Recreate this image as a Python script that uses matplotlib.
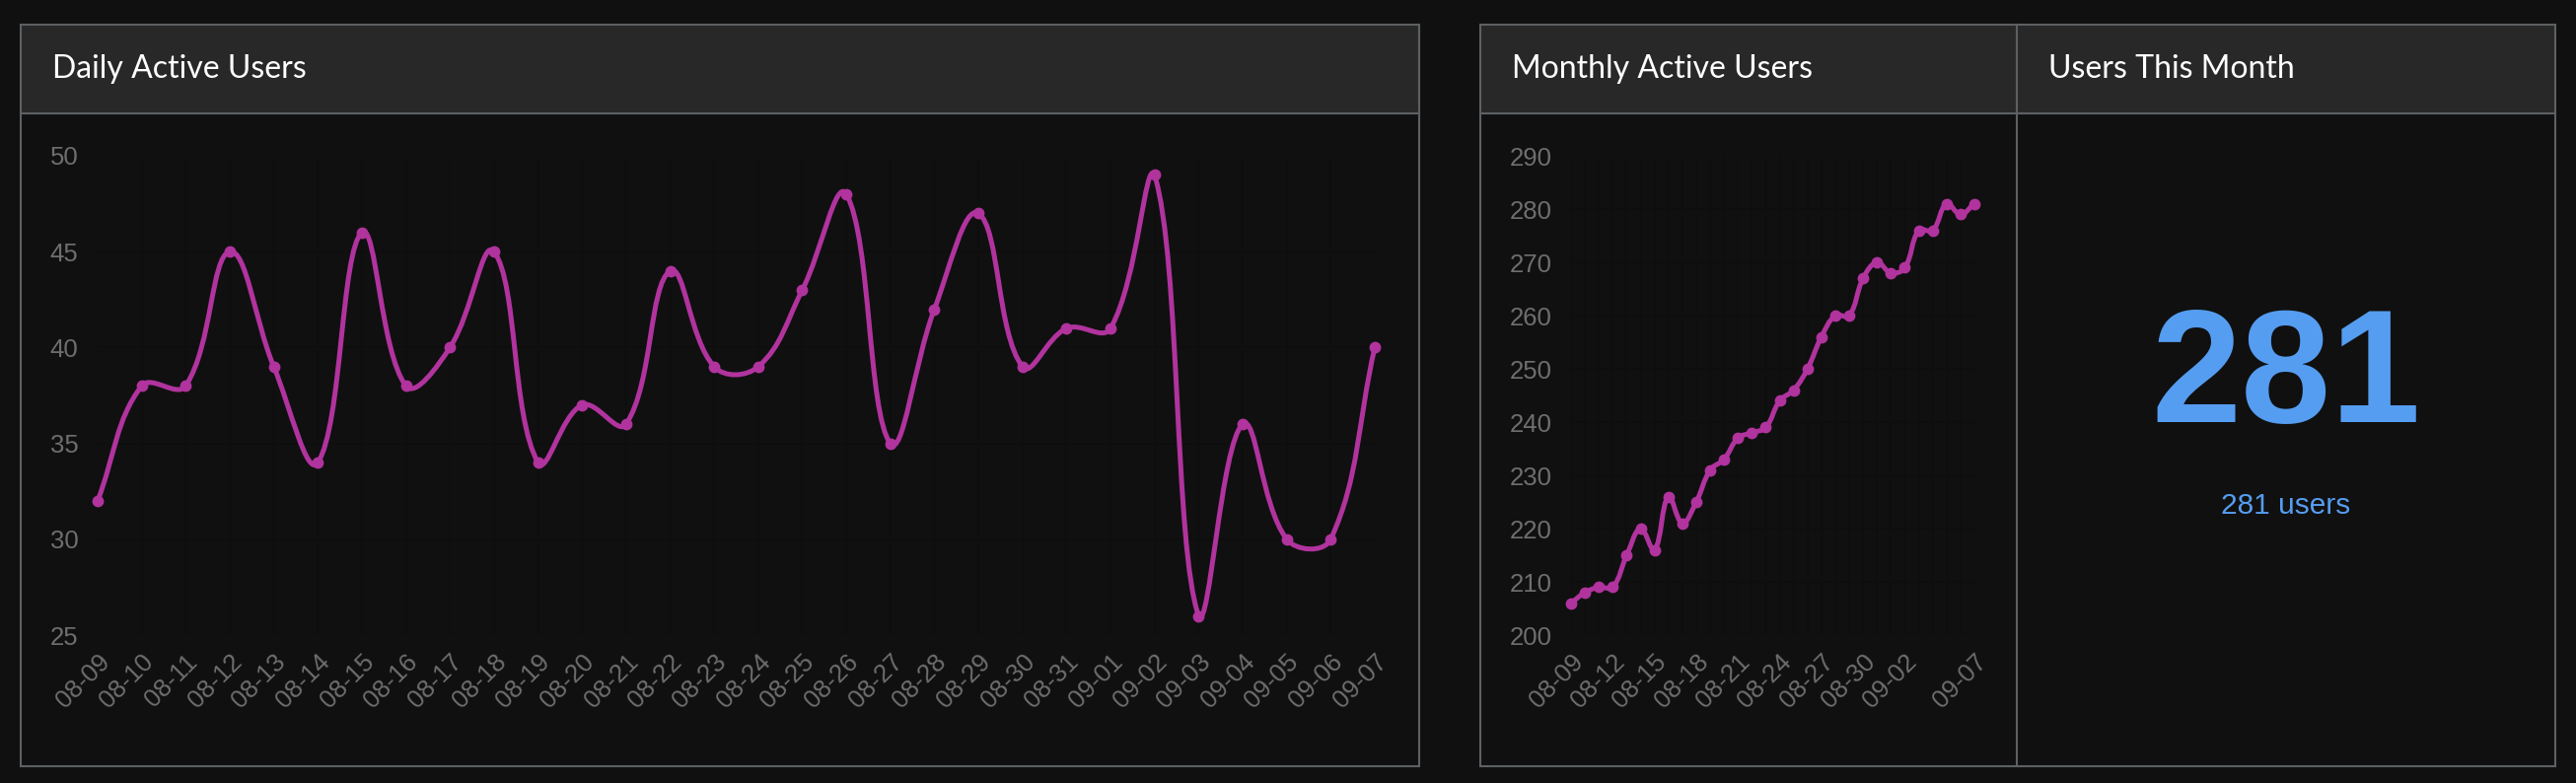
import numpy as np
import matplotlib
matplotlib.use("Agg")
import matplotlib.pyplot as plt
from matplotlib.patches import Rectangle, PathPatch
from matplotlib.path import Path

# --- data -------------------------------------------------------------
days = ["08-09", "08-10", "08-11", "08-12", "08-13", "08-14", "08-15", "08-16",
        "08-17", "08-18", "08-19", "08-20", "08-21", "08-22", "08-23", "08-24",
        "08-25", "08-26", "08-27", "08-28", "08-29", "08-30", "08-31", "09-01",
        "09-02", "09-03", "09-04", "09-05", "09-06", "09-07"]
daily_users = [32, 38, 38, 45, 39, 34, 46, 38, 40, 45, 34, 37, 36, 44, 39, 39,
               43, 48, 35, 42, 47, 39, 41, 41, 49, 26, 36, 30, 30, 40]
monthly_users = [206, 208, 209, 209, 215, 220, 216, 226, 221, 225, 231, 233, 237,
                 238, 239, 244, 246, 250, 256, 260, 260, 267, 270, 268, 269, 276,
                 276, 281, 279, 281]
monthly_ticks = ["08-09", "08-12", "08-15", "08-18", "08-21", "08-24", "08-27",
                 "08-30", "09-02", "09-07"]
users_this_month = 281

# --- style ------------------------------------------------------------
W, H = 2612, 794
BG = "#101010"
HEADER = "#282828"
BORDER = "#5d6063"
LINE = "#b1339e"
TICK = "#6e6e6e"
GRID = "#0e0e0e"
BLUE = "#559df0"

fig = plt.figure(figsize=(W / 100, H / 100), dpi=100, facecolor=BG)


def frac(x0, y0, x1, y1):
    # pixel box (top-left origin) -> figure fraction rect
    return [x0 / W, 1 - y1 / H, (x1 - x0) / W, (y1 - y0) / H]


def panel(x0, x1, dividers=()):
    y0, yh, y1 = 25, 115, 777
    l, b, w, h = frac(x0, y0, x1, yh)
    fig.patches.append(Rectangle((l, b), w, h, transform=fig.transFigure,
                                 facecolor=HEADER, edgecolor="none"))
    l, b, w, h = frac(x0, y0, x1, y1)
    fig.patches.append(Rectangle((l, b), w, h, transform=fig.transFigure,
                                 facecolor="none", edgecolor=BORDER, lw=1.5))
    fig.add_artist(plt.Line2D([x0 / W, x1 / W], [1 - yh / H] * 2,
                              color=BORDER, lw=1.5))
    for xd in dividers:
        fig.add_artist(plt.Line2D([xd / W] * 2, [1 - y0 / H, 1 - y1 / H],
                                  color=BORDER, lw=1.5))


def title(x, text):
    fig.text(x / W, 1 - 70 / H, text, color="white", fontsize=23,
             family="Lato", va="center", ha="left")


def smooth_line(ax, xs, ys, tension=0.4):
    # Chart.js style bezier through the points, computed in pixel space
    pts = ax.transData.transform(np.column_stack([xs, ys]))
    bb = ax.bbox
    n = len(pts)
    inner, outer = [], []
    for i in range(n):
        p = pts[i]
        prev = pts[i - 1] if i > 0 else p
        nxt = pts[i + 1] if i < n - 1 else p
        d01 = np.hypot(*(p - prev))
        d12 = np.hypot(*(nxt - p))
        tot = d01 + d12
        fa = tension * d01 / tot if tot else 0
        fb = tension * d12 / tot if tot else 0
        ci = p - fa * (nxt - prev)
        co = p + fb * (nxt - prev)
        for c in (ci, co):
            c[1] = min(max(c[1], bb.y0), bb.y1)
        inner.append(ci)
        outer.append(co)
    verts = [pts[0]]
    codes = [Path.MOVETO]
    for i in range(1, n):
        verts += [outer[i - 1], inner[i], pts[i]]
        codes += [Path.CURVE4] * 3
    verts = ax.transData.inverted().transform(np.array(verts))
    ax.add_patch(PathPatch(Path(verts, codes), fill=False, edgecolor=LINE,
                           lw=3.6, clip_on=False, capstyle="round",
                           joinstyle="round", zorder=3))
    ax.plot(xs, ys, "o", color=LINE, markersize=7.5, clip_on=False, zorder=4)


def style_axes(ax, ymin, ymax, step, ticks, labels):
    ax.set_facecolor(BG)
    ax.set_ylim(ymin, ymax)
    ax.set_yticks(np.arange(ymin, ymax + 1, step))
    ax.set_xlim(0, len(days) - 1)
    for s in ax.spines.values():
        s.set_visible(False)
    ax.grid(True, axis="y", color=GRID, lw=1.2)
    for xi in range(len(days)):
        ax.axvline(xi, color=GRID, lw=1.2, zorder=0)
    ax.set_axisbelow(True)
    ax.set_xticks(ticks)
    ax.set_xticklabels(labels, rotation=45, ha="right", va="top",
                       rotation_mode="anchor")
    ax.tick_params(length=0, colors=TICK, labelsize=18.5)
    ax.tick_params(axis="y", pad=14)
    ax.tick_params(axis="x", pad=11)
    for lab in ax.get_yticklabels() + ax.get_xticklabels():
        lab.set_family("Liberation Sans")


x = np.arange(len(days))

# --- daily active users -----------------------------------------------
panel(21, 1439)
title(53, "Daily Active Users")
ax1 = fig.add_axes(frac(99, 158, 1394, 644))
style_axes(ax1, 25, 50, 5, x, days)
smooth_line(ax1, x, daily_users)

# --- monthly active users ---------------------------------------------
panel(1501, 2591, dividers=(2045,))
title(1533, "Monthly Active Users")
title(2077, "Users This Month")
ax2 = fig.add_axes(frac(1593, 158, 2002, 644))
style_axes(ax2, 200, 290, 10, [days.index(d) for d in monthly_ticks],
           monthly_ticks)
smooth_line(ax2, x, monthly_users)

# --- users this month -------------------------------------------------
cx = (2045 + 2591) / 2
fig.text(cx / W, 1 - 386 / H, str(users_this_month), color=BLUE, fontsize=118,
         fontweight="bold", family="Liberation Sans", ha="center", va="center")
fig.text(cx / W, 1 - 513 / H, f"{users_this_month} users", color=BLUE,
         fontsize=21.5, family="Liberation Sans", ha="center", va="center")

fig.savefig("out.png", dpi=100, facecolor=BG)
